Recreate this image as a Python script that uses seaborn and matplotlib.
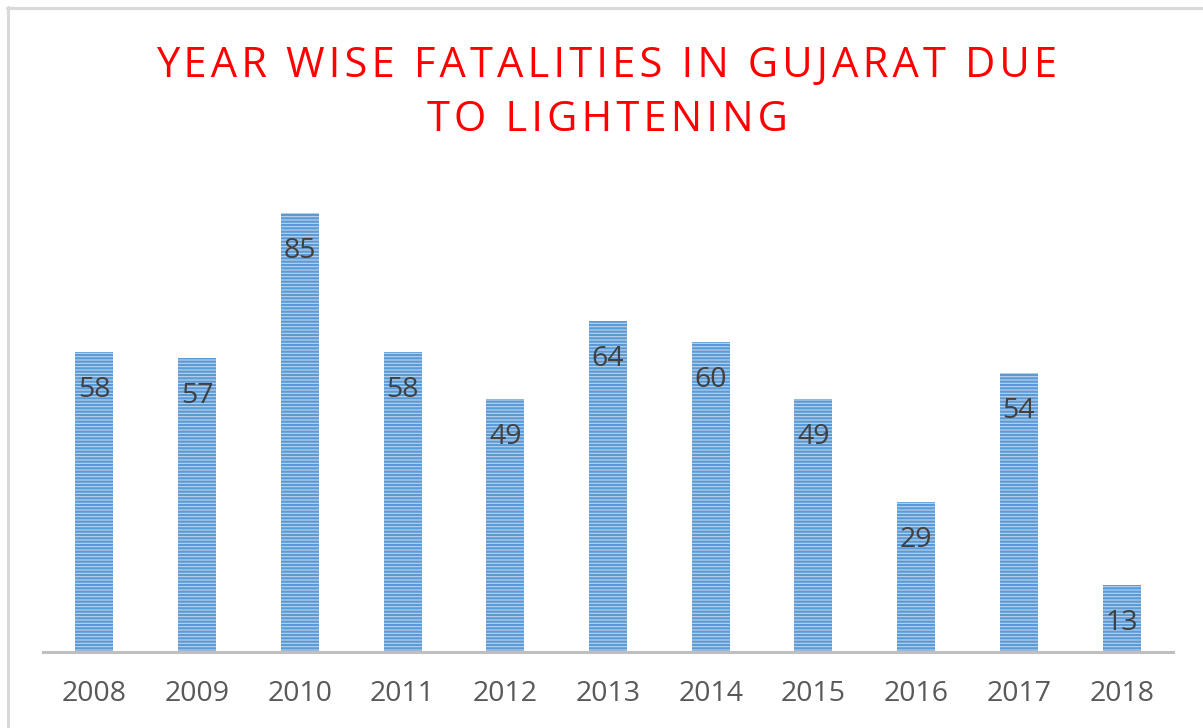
import matplotlib.pyplot as plt
import matplotlib.lines as mlines
import seaborn as sns
import pandas as pd

years = ["2008", "2009", "2010", "2011", "2012", "2013", "2014", "2015", "2016", "2017", "2018"]
fatalities = [58, 57, 85, 58, 49, 64, 60, 49, 29, 54, 13]

title_lines = ["YEAR WISE FATALITIES IN GUJARAT DUE", "TO LIGHTENING"]

sns.set_theme(style="white")
plt.rcParams["font.family"] = ["Open Sans", "DejaVu Sans"]
plt.rcParams["hatch.linewidth"] = 1.6

W, H = 1203, 728
fig = plt.figure(figsize=(W / 100, H / 100), dpi=100)
ax = fig.add_axes([43 / W, (H - 652) / H, (1173 - 43) / W, (652 - 187) / H])

df = pd.DataFrame({"year": years, "fatalities": fatalities})
sns.barplot(data=df, x="year", y="fatalities", width=0.37, color="#bcd4ef",
            saturation=1, ax=ax)

for bar, v in zip(ax.patches, fatalities):
    bar.set_hatch("-----")
    bar.set_edgecolor("#5b9bd5")
    bar.set_linewidth(0)
    ax.annotate(str(v), (bar.get_x() + bar.get_width() / 2, v),
                xytext=(0, -38), textcoords="offset pixels",
                ha="center", va="center", fontsize=20.5, color="#404040")

ax.set_xlim(-0.5, len(years) - 0.5)
ax.set_ylim(0, 90)
ax.set_xlabel("")
ax.set_ylabel("")
ax.set_yticks([])
ax.tick_params(axis="x", length=0, pad=20, labelsize=20.5, labelcolor="#595959")
for s in ["top", "right", "left"]:
    ax.spines[s].set_visible(False)
ax.spines["bottom"].set_color("#bfbfbf")
ax.spines["bottom"].set_linewidth(2.2)

# letter-spaced title (hair spaces between characters)
title = "\n".join("\u200a".join(line) for line in title_lines)
fig.text(607 / W, 1 - 93 / H, title, ha="center", va="center", color="#ff0000",
         fontsize=30, linespacing=1.40)

# light grey frame (top and left edges visible)
fig.add_artist(mlines.Line2D([7 / W, 1], [1 - 7.5 / H, 1 - 7.5 / H],
                             color="#d9d9d9", lw=2.2, transform=fig.transFigure))
fig.add_artist(mlines.Line2D([7.5 / W, 7.5 / W], [0, 1 - 7 / H],
                             color="#d9d9d9", lw=2.2, transform=fig.transFigure))

plt.savefig("out.png", dpi=100)
